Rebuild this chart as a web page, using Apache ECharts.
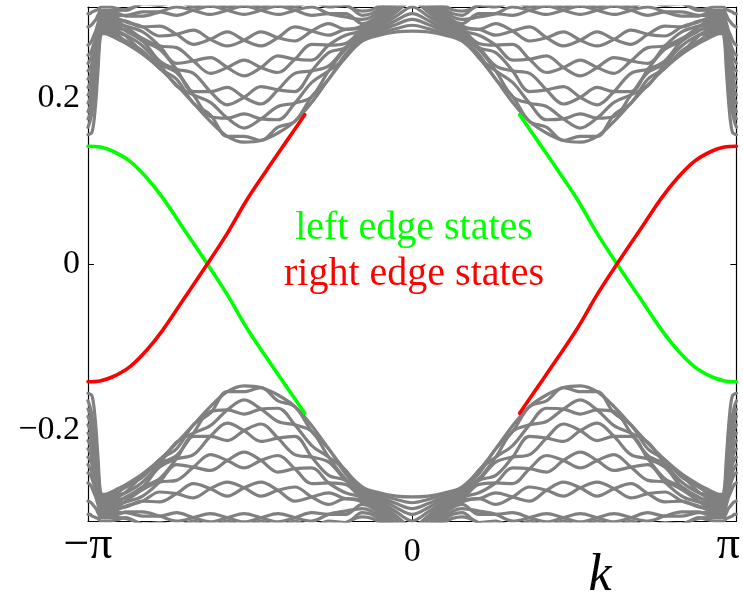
<!DOCTYPE html>
<html>
<head>
<meta charset="utf-8">
<script src="https://cdn.jsdelivr.net/npm/echarts@6/dist/echarts.min.js"></script>
<style>
  html, body { margin: 0; padding: 0; background: #ffffff; }
  #chart { width: 743px; height: 596px; }
</style>
</head>
<body>
<div id="chart"></div>
<script>
// Ribbon spectrum E(k). Bulk bands are sampled on the half zone k in [-pi, 0];
// the spectrum is even in k, and the valence bands are the mirror E -> -E.
const kHalf = [-3.1416, -3.122, -3.103, -3.084, -3.064, -3.045, -3.016, -2.978, -2.930, -2.852,
  -2.775, -2.612, -2.448, -2.284, -2.120, -1.956, -1.792, -1.629, -1.465, -1.301,
  -1.137, -0.973, -0.809, -0.646, -0.482, -0.318, -0.154, 0];

const band1 = [0.156,0.157,0.159,0.172,0.199,0.233,0.277,0.278,0.276,0.271,
  0.266,0.253,0.236,0.216,0.194,0.172,0.154,0.147,0.149,0.158,0.172,0.195,0.223,0.249,
  0.269,0.276,0.280,0.281];
const band2 = [0.165,0.172,0.183,0.199,0.221,0.245,0.280,0.280,0.278,0.275,
  0.269,0.257,0.236,0.223,0.194,0.180,0.154,0.154,0.149,0.165,0.172,0.202,0.223,0.253,
  0.271,0.278,0.284,0.288];
const band3 = [0.175,0.181,0.192,0.207,0.227,0.249,0.282,0.282,0.281,0.278,
  0.276,0.263,0.241,0.215,0.204,0.195,0.176,0.164,0.175,0.190,0.194,0.202,0.233,0.259,
  0.273,0.281,0.289,0.295];
const band4 = [0.184,0.190,0.200,0.215,0.233,0.254,0.284,0.284,0.283,0.281,
  0.275,0.255,0.241,0.231,0.204,0.178,0.176,0.181,0.175,0.174,0.194,0.219,0.233,0.249,
  0.276,0.283,0.294,0.302];
const band5 = [0.194,0.200,0.208,0.222,0.237,0.258,0.286,0.287,0.286,0.284,
  0.282,0.269,0.259,0.235,0.208,0.208,0.213,0.201,0.193,0.210,0.230,0.233,0.239,0.261,
  0.277,0.286,0.299,0.310];
const band6 = [0.204,0.208,0.217,0.229,0.245,0.263,0.288,0.289,0.288,0.287,
  0.281,0.269,0.245,0.235,0.230,0.208,0.192,0.201,0.214,0.210,0.208,0.233,0.255,0.261,
  0.280,0.288,0.304,0.317];
const band7 = [0.213,0.218,0.225,0.236,0.251,0.267,0.290,0.292,0.290,0.289,
  0.287,0.280,0.263,0.242,0.245,0.249,0.237,0.227,0.237,0.251,0.247,0.246,0.264,0.276,
  0.281,0.290,0.308,0.324];
const band8 = [0.223,0.227,0.234,0.243,0.257,0.272,0.293,0.294,0.293,0.292,
  0.286,0.272,0.263,0.261,0.245,0.230,0.237,0.246,0.237,0.231,0.247,0.265,0.264,0.266,
  0.283,0.293,0.313,0.331];
const band9 = [0.233,0.236,0.242,0.252,0.263,0.276,0.295,0.296,0.295,0.294,
  0.293,0.286,0.287,0.277,0.265,0.271,0.280,0.270,0.263,0.273,0.286,0.281,0.276,0.283,
  0.284,0.295,0.318,0.339];
const band10 = [0.242,0.246,0.251,0.259,0.269,0.281,0.298,0.299,0.298,0.296,
  0.292,0.286,0.275,0.277,0.282,0.271,0.263,0.270,0.280,0.273,0.269,0.281,0.290,0.283,
  0.287,0.298,0.323,0.346];
const band11 = [0.252,0.254,0.259,0.266,0.275,0.286,0.300,0.301,0.300,0.300,
  0.300,0.304,0.304,0.300,0.306,0.311,0.306,0.301,0.306,0.311,0.306,0.300,0.302,0.302,
  0.290,0.301,0.328,0.353];
const band12 = [0.264,0.266,0.270,0.276,0.282,0.290,0.302,0.304,0.302,0.302,
  0.299,0.299,0.304,0.310,0.306,0.301,0.306,0.311,0.306,0.301,0.306,0.310,0.302,0.298,
  0.295,0.305,0.333,0.360];
const band13 = [0.286,0.287,0.289,0.292,0.295,0.300,0.306,0.306,0.306,0.306,
  0.307,0.314,0.327,0.319,0.310,0.319,0.329,0.319,0.310,0.319,0.329,0.319,0.310,0.312,
  0.300,0.308,0.337,0.367];
const band14 = [0.302,0.302,0.304,0.305,0.306,0.307,0.310,0.310,0.310,0.308,
  0.306,0.314,0.312,0.319,0.329,0.319,0.310,0.319,0.329,0.319,0.310,0.319,0.324,0.312,
  0.305,0.312,0.342,0.375];

const conductionBands = [band1, band2, band3, band4, band5, band6, band7,
  band8, band9, band10, band11, band12, band13, band14];

// Edge-state branch localised on the left edge, for k in [-pi, -1.04].
const edgeK = [-3.1416, -3.026, -2.901, -2.737, -2.573, -2.419, -2.207, -1.985,
  -1.792, -1.609, -1.417, -1.224, -1.041];
const edgeE = [0.142, 0.141, 0.136, 0.124, 0.104, 0.080, 0.041, 0,
  -0.037, -0.076, -0.112, -0.147, -0.180];

const xTickValues = [-Math.PI, 0, Math.PI];
const yTickValues = [-0.2, 0, 0.2];

const GRAY = '#808080';
const GREEN = '#00ff00';
const RED = '#ff0000';
const SERIF = '"Liberation Serif", "DejaVu Serif", serif';

// Whole-zone curve of a band: the sampled half plus its k -> -k image.
function wholeZone(values, sign) {
  const pts = kHalf.map((k, i) => [k, sign * values[i]]);
  for (let i = kHalf.length - 2; i >= 0; i--) pts.push([-kHalf[i], sign * values[i]]);
  return pts;
}

function lineSeries(data, color, width, z) {
  return {
    type: 'line', data: data, showSymbol: false, smooth: 0.35,
    clip: true, silent: true, z: z,
    lineStyle: { color: color, width: width, cap: 'round', join: 'round' }
  };
}

const series = [];
conductionBands.forEach(b => series.push(lineSeries(wholeZone(b, 1), GRAY, 3.2, 2)));
conductionBands.forEach(b => series.push(lineSeries(wholeZone(b, -1), GRAY, 3.2, 2)));

// Left-edge states (green): the branch at k<0 and its image (k, E) -> (-k, -E).
const greenLeft = edgeK.map((k, i) => [k, edgeE[i]]);
const greenRight = edgeK.map((k, i) => [-k, -edgeE[i]]).reverse();
// Right-edge states (red): (k, E) -> (k, -E) of the green branches.
const redLeft = edgeK.map((k, i) => [k, -edgeE[i]]);
const redRight = edgeK.map((k, i) => [-k, edgeE[i]]).reverse();
series.push(lineSeries(greenLeft, GREEN, 3.6, 5));
series.push(lineSeries(greenRight, GREEN, 3.6, 5));
series.push(lineSeries(redLeft, RED, 3.6, 5));
series.push(lineSeries(redRight, RED, 3.6, 5));

const chart = echarts.init(document.getElementById('chart'), null, { renderer: 'canvas' });

const frameLine = { show: true, onZero: false, lineStyle: { color: '#000', width: 1.2 } };

chart.setOption({
  animation: false,
  backgroundColor: '#ffffff',
  grid: { left: 88, right: 4, top: 7, bottom: 75, containLabel: false },
  xAxis: [
    {
      type: 'value', min: -Math.PI, max: Math.PI, position: 'bottom',
      axisLine: frameLine,
      axisTick: { show: true, inside: true, length: 6, customValues: xTickValues,
        lineStyle: { color: '#000', width: 1 } },
      splitLine: { show: false },
      axisLabel: {
        show: true, customValues: xTickValues, margin: 2, color: '#000',
        fontFamily: SERIF,
        formatter: function (v) {
          if (v < -3) return '{pi|\u2212\u03c0}';
          if (v > 3) return '{pir|\u03c0}';
          return '{z|0}';
        },
        rich: {
          pi: { fontFamily: SERIF, fontSize: 46, color: '#000' },
          pir: { fontFamily: SERIF, fontSize: 46, color: '#000', padding: [0, 16, 0, 0] },
          z: { fontFamily: SERIF, fontSize: 34, color: '#000', padding: [12, 0, 0, 0] }
        }
      }
    },
    {
      type: 'value', min: -Math.PI, max: Math.PI, position: 'top',
      axisLine: frameLine,
      axisTick: { show: true, inside: true, length: 6, customValues: xTickValues,
        lineStyle: { color: '#000', width: 1 } },
      splitLine: { show: false },
      axisLabel: { show: false }
    }
  ],
  yAxis: [
    {
      type: 'value', min: -0.31, max: 0.31, position: 'left',
      axisLine: frameLine,
      axisTick: { show: true, inside: true, length: 6, customValues: yTickValues,
        lineStyle: { color: '#000', width: 1 } },
      splitLine: { show: false },
      axisLabel: {
        show: true, customValues: yTickValues, margin: 8, color: '#000',
        fontFamily: SERIF, fontSize: 34,
        formatter: function (v) {
          if (Math.abs(v) < 1e-9) return '0';
          return (v < 0 ? '\u2212' : '') + Math.abs(v).toFixed(1);
        }
      }
    },
    {
      type: 'value', min: -0.31, max: 0.31, position: 'right',
      axisLine: frameLine,
      axisTick: { show: true, inside: true, length: 6, customValues: yTickValues,
        lineStyle: { color: '#000', width: 1 } },
      splitLine: { show: false },
      axisLabel: { show: false }
    }
  ],
  graphic: [
    { type: 'text', z: 10, style: { text: 'left edge states', x: 414, y: 228,
      textAlign: 'center', textVerticalAlign: 'middle', fill: GREEN,
      font: '40px ' + SERIF } },
    { type: 'text', z: 10, style: { text: 'right edge states', x: 414, y: 274,
      textAlign: 'center', textVerticalAlign: 'middle', fill: RED,
      font: '40px ' + SERIF } },
    { type: 'text', z: 10, style: { text: 'k', x: 600, y: 576,
      textAlign: 'center', textVerticalAlign: 'middle', fill: '#000',
      font: 'italic 52px ' + SERIF } }
  ],
  series: series
});
</script>
</body>
</html>
